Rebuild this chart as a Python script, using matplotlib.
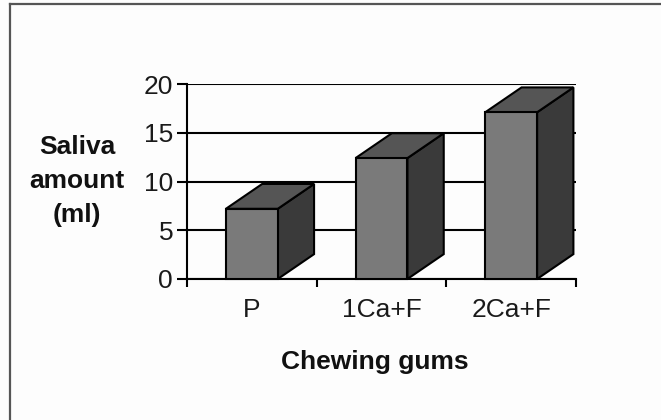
import matplotlib.pyplot as plt
from matplotlib.patches import Polygon
from matplotlib.lines import Line2D

# data
categories = ["P", "1Ca+F", "2Ca+F"]
saliva_ml = [7.2, 12.4, 17.1]
y_ticks = [0, 5, 10, 15, 20]

plt.rcParams['font.family'] = ['Liberation Sans', 'DejaVu Sans']

fig = plt.figure(figsize=(6.61, 4.20), dpi=100)
fig.patch.set_facecolor("#fdfdfd")
ax = fig.add_axes([187 / 661, 1 - 279 / 420, 389 / 661, 195 / 420])
ax.set_facecolor("none")

# 3D look: front face + top + side, offset in data units
W = 0.40      # front face width
DX = 0.28     # depth to the right
DY = 2.55     # depth upward
front_c, top_c, side_c = "#7a7a7a", "#555555", "#3a3a3a"

for i, v in enumerate(saliva_ml):
    x0, x1 = i - W / 2, i + W / 2
    front = [(x0, 0), (x1, 0), (x1, v), (x0, v)]
    top = [(x0, v), (x1, v), (x1 + DX, v + DY), (x0 + DX, v + DY)]
    side = [(x1, 0), (x1 + DX, DY), (x1 + DX, v + DY), (x1, v)]
    for pts, c in [(side, side_c), (top, top_c), (front, front_c)]:
        ax.add_patch(Polygon(pts, closed=True, facecolor=c, edgecolor="black",
                             linewidth=1.5, zorder=3, clip_on=False))

ax.set_xlim(-0.5, len(categories) - 0.5)
ax.set_ylim(0, 20)
ax.set_yticks(y_ticks)
ax.set_xticks(range(len(categories)))
ax.set_xticklabels(categories)
ax.set_xticks([i - 0.5 for i in range(len(categories) + 1)], minor=True)
ax.tick_params(axis="x", which="major", length=0, pad=14, labelsize=19, colors="#1a1a1a")
ax.tick_params(axis="x", which="minor", length=6, width=1.5, direction="out")
ax.tick_params(axis="y", length=7, width=1.5, direction="out", pad=3,
               labelsize=19, labelcolor="#1a1a1a")

ax.grid(axis="y", color="black", linewidth=1.5, zorder=0)
ax.set_axisbelow(True)
for s in ["top", "right"]:
    ax.spines[s].set_visible(False)
for s in ["left", "bottom"]:
    ax.spines[s].set_linewidth(1.5)

fig.text(77 / 661, 1 - 181 / 420, "Saliva\namount\n(ml)", ha="center", va="center",
         fontsize=19, fontweight="bold", linespacing=1.53, color="#111111")
fig.text(375 / 661, 1 - 369 / 420, "Chewing gums", ha="center", va="baseline",
         fontsize=19, fontweight="bold", color="#111111")

# frame around the figure (only left and top visible in the crop)
fig.add_artist(Line2D([9.5 / 661, 9.5 / 661], [0, 1 - 4 / 420], color="#555555", linewidth=1.6))
fig.add_artist(Line2D([9.5 / 661, 1], [1 - 4 / 420, 1 - 4 / 420], color="#555555", linewidth=1.6))

fig.savefig("out.png", dpi=100, facecolor=fig.get_facecolor())
